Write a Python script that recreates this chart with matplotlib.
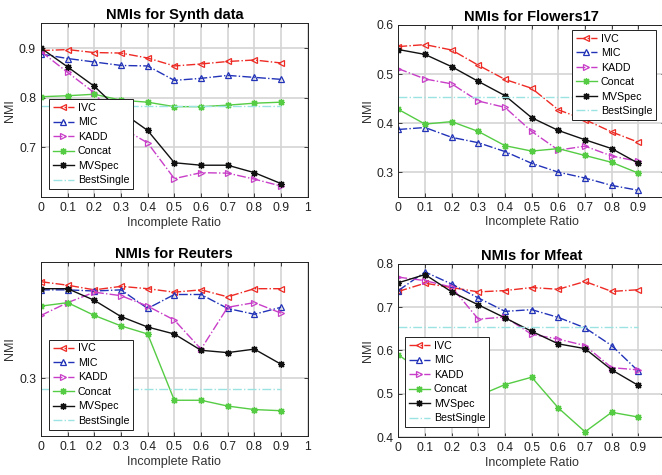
import matplotlib
matplotlib.use("Agg")
import matplotlib.pyplot as plt

plt.rcParams['font.family'] = ['Liberation Sans', 'DejaVu Sans']

# incomplete ratios
ratios = [0, 0.1, 0.2, 0.3, 0.4, 0.5, 0.6, 0.7, 0.8, 0.9]
methods = ['IVC', 'MIC', 'KADD', 'Concat', 'MVSpec']

# Synth data
synth_ivc = [0.895, 0.897, 0.891, 0.890, 0.880, 0.864, 0.868, 0.873, 0.876, 0.870]
synth_mic = [0.888, 0.879, 0.872, 0.865, 0.864, 0.835, 0.839, 0.845, 0.841, 0.837]
synth_kadd = [0.893, 0.851, 0.810, 0.740, 0.709, 0.637, 0.649, 0.648, 0.636, 0.622]
synth_concat = [0.802, 0.804, 0.807, 0.795, 0.791, 0.782, 0.782, 0.785, 0.789, 0.791]
synth_mvspec = [0.900, 0.862, 0.823, 0.772, 0.734, 0.669, 0.664, 0.664, 0.649, 0.627]
synth_best = 0.784

# Flowers17
flow_ivc = [0.556, 0.560, 0.549, 0.518, 0.489, 0.471, 0.427, 0.407, 0.382, 0.361]
flow_mic = [0.387, 0.391, 0.371, 0.360, 0.342, 0.318, 0.300, 0.288, 0.273, 0.263]
flow_kadd = [0.511, 0.490, 0.480, 0.445, 0.432, 0.383, 0.345, 0.353, 0.333, 0.322]
flow_concat = [0.428, 0.398, 0.403, 0.383, 0.354, 0.343, 0.348, 0.334, 0.320, 0.298]
flow_mvspec = [0.550, 0.540, 0.515, 0.485, 0.456, 0.411, 0.385, 0.366, 0.348, 0.318]
flow_best = 0.453

# Reuters
reut_ivc = [0.383, 0.380, 0.376, 0.379, 0.377, 0.374, 0.376, 0.370, 0.377, 0.377]
reut_mic = [0.376, 0.376, 0.375, 0.376, 0.360, 0.372, 0.372, 0.360, 0.355, 0.361]
reut_kadd = [0.354, 0.365, 0.374, 0.371, 0.362, 0.350, 0.325, 0.361, 0.365, 0.356]
reut_concat = [0.362, 0.365, 0.354, 0.345, 0.338, 0.281, 0.281, 0.276, 0.273, 0.272]
reut_mvspec = [0.377, 0.377, 0.367, 0.353, 0.344, 0.338, 0.324, 0.322, 0.325, 0.312]
reut_best = 0.291

# Mfeat
mfeat_ivc = [0.736, 0.755, 0.745, 0.735, 0.738, 0.745, 0.741, 0.759, 0.736, 0.740]
mfeat_mic = [0.738, 0.781, 0.753, 0.721, 0.690, 0.694, 0.676, 0.652, 0.611, 0.552]
mfeat_kadd = [0.769, 0.761, 0.746, 0.672, 0.677, 0.637, 0.626, 0.611, 0.560, 0.555]
mfeat_concat = [0.590, 0.545, 0.520, 0.495, 0.521, 0.538, 0.467, 0.412, 0.457, 0.446]
mfeat_mvspec = [0.756, 0.775, 0.735, 0.705, 0.675, 0.644, 0.615, 0.604, 0.555, 0.519]
mfeat_best = 0.655

styles = {
    'IVC': dict(color='#ee2a24', ls='-.', marker='<', mfc='none'),
    'MIC': dict(color='#2233b8', ls='-.', marker='^', mfc='none'),
    'KADD': dict(color='#c83ec8', ls='-.', marker='>', mfc='none'),
    'Concat': dict(color='#55cc44', ls='-', marker=(8, 2, 0)),
    'MVSpec': dict(color='#111111', ls='-', marker=(8, 2, 0)),
}
best_color = '#9be3e3'


def draw_panel(ax, title, series, best, ylim, yticks, show_one, leg_loc, leg_anchor):
    ax.grid(True, color='#d4d4d4', lw=1.2)
    ax.set_axisbelow(True)
    for name, vals in zip(methods, series):
        st = styles[name]
        ax.plot(ratios, vals, color=st['color'], ls=st['ls'], lw=1.0,
                marker=st['marker'], mfc=st.get('mfc', st['color']),
                mec=st['color'], ms=5, mew=0.9, label=name)
    ax.plot([ratios[0], ratios[-1]], [best, best], color=best_color, ls='-.',
            lw=1.0, label='BestSingle')
    ax.set_xlim(0, 1)
    ax.set_ylim(*ylim)
    ax.set_xticks([i / 10 for i in range(11)])
    # the right-hand panels are cut at x = 1 in the original, so no "1" label
    ax.set_xticklabels(['0'] + ['0.%d' % i for i in range(1, 10)] + ['1' if show_one else ''])
    ax.set_yticks(yticks)
    ax.set_yticklabels(['%.1f' % v for v in yticks])
    ax.tick_params(direction='in', top=True, right=True, labelsize=8.7,
                   length=3, width=0.6, colors='#222222')
    for sp in ax.spines.values():
        sp.set_linewidth(0.7)
        sp.set_color('#222222')
    ax.set_title(title, fontsize=10.5, fontweight='bold', pad=3)
    ax.set_xlabel('Incomplete Ratio', fontsize=9, color='#333333', labelpad=2)
    ax.set_ylabel('NMI', fontsize=9, color='#333333', labelpad=2)
    leg = ax.legend(loc=leg_loc, bbox_to_anchor=leg_anchor, fontsize=7.7,
                    fancybox=False, framealpha=1, edgecolor='#222222',
                    handlelength=2.0, handletextpad=0.35, labelspacing=0.42,
                    borderpad=0.35, borderaxespad=0)
    leg.get_frame().set_linewidth(0.7)


fig = plt.figure(figsize=(6.62, 4.75), dpi=100)

ax1 = fig.add_axes([0.0619, 0.5853, 0.4029, 0.3657])
draw_panel(ax1, 'NMIs for Synth data',
           [synth_ivc, synth_mic, synth_kadd, synth_concat, synth_mvspec],
           synth_best, (0.6, 0.95), [0.7, 0.8, 0.9], True,
           'lower left', (0.03, 0.046))

ax2 = fig.add_axes([0.6017, 0.5859, 0.4029, 0.3615])
draw_panel(ax2, 'NMIs for Flowers17',
           [flow_ivc, flow_mic, flow_kadd, flow_concat, flow_mvspec],
           flow_best, (0.25, 0.6), [0.3, 0.4, 0.5, 0.6], False,
           'upper right', (0.966, 0.971))

ax3 = fig.add_axes([0.0619, 0.0815, 0.4029, 0.367])
draw_panel(ax3, 'NMIs for Reuters',
           [reut_ivc, reut_mic, reut_kadd, reut_concat, reut_mvspec],
           reut_best, (0.25, 0.40), [0.3], True,
           'lower left', (0.03, 0.038))

ax4 = fig.add_axes([0.6017, 0.08, 0.4029, 0.3648])
draw_panel(ax4, 'NMIs for Mfeat',
           [mfeat_ivc, mfeat_mic, mfeat_kadd, mfeat_concat, mfeat_mvspec],
           mfeat_best, (0.4, 0.8), [0.4, 0.5, 0.6, 0.7, 0.8], False,
           'lower left', (0.025, 0.057))

fig.savefig('out.png', dpi=100)
